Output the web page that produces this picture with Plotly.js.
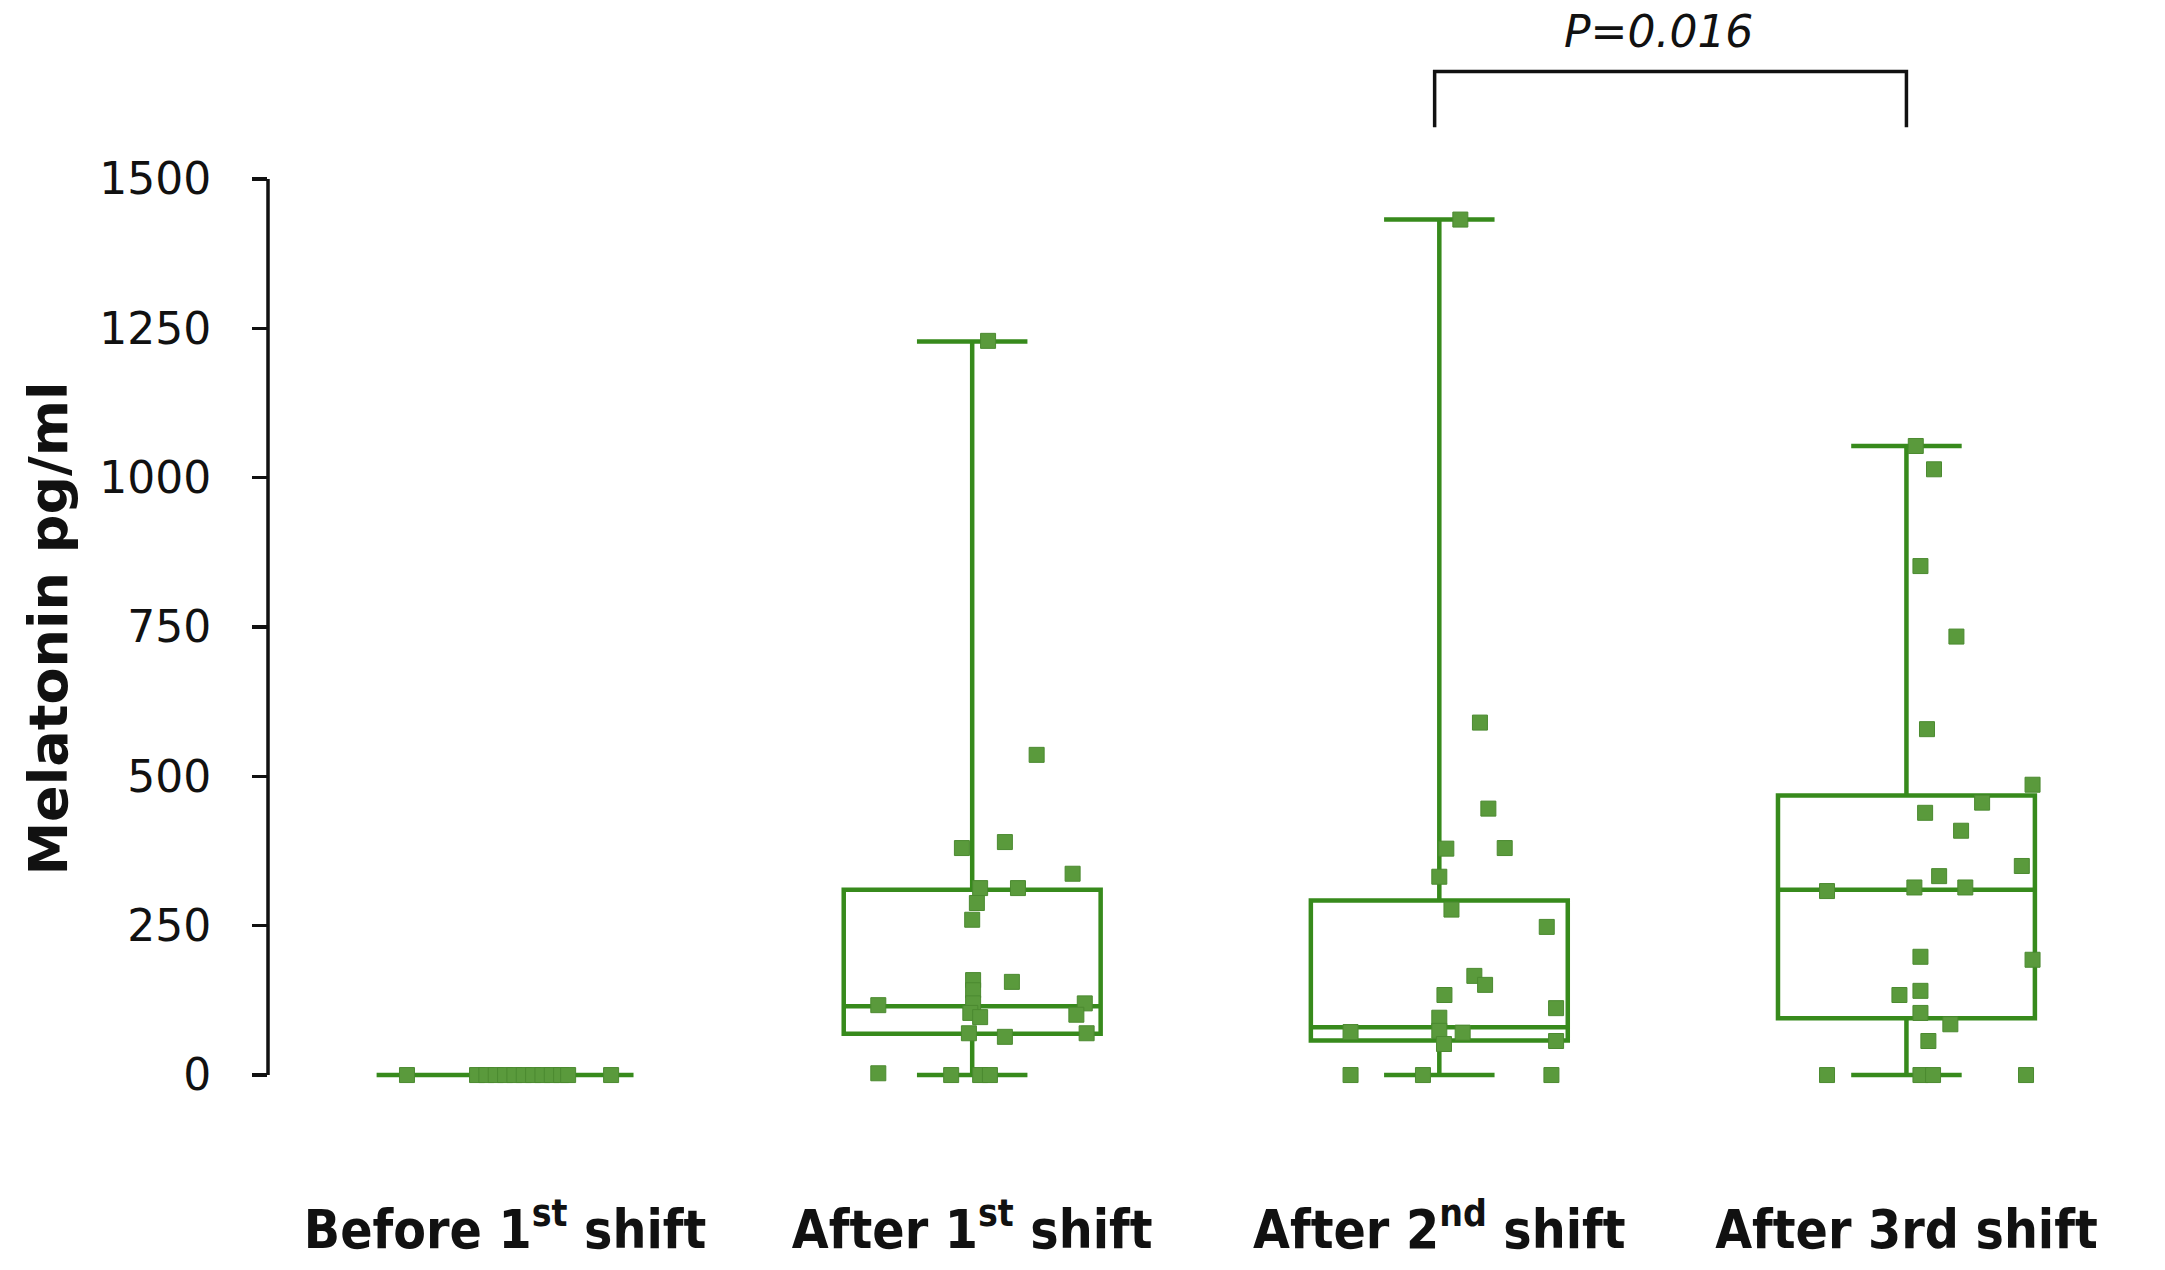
<!DOCTYPE html>
<html>
<head>
<meta charset="utf-8">
<script src="https://cdn.plot.ly/plotly-3.0.1.min.js"></script>
<style>html,body{margin:0;padding:0;background:#fff;}#chart{width:2165px;height:1270px;}</style>
</head>
<body>
<div id="chart"></div>
<script>
// ---- data ----
const categories = ['Before 1<sup>st</sup> shift', 'After 1<sup>st</sup> shift', 'After 2<sup>nd</sup> shift', 'After 3rd shift'];
const catIndex = [0, 1, 2, 3];

const q1 = [0, 69, 58, 95];
const median = [0, 115, 80, 310];
const q3 = [0, 310, 292, 468];
const lowerFence = [0, 0, 0, 0];
const upperFence = [0, 1228, 1432, 1053];

const beforeValues  = [0, 0, 0, 0, 0, 0, 0, 0, 0, 0, 0, 0, 0];
const beforeJitter  = [-0.21, -0.06, -0.04, -0.02, 0, 0.02, 0.04, 0.06, 0.08, 0.10, 0.12, 0.135, 0.227];

const after1Values = [1229, 536, 390, 380, 337, 313, 313, 288, 260, 159, 142, 156, 120, 117, 120, 104, 97, 101, 70, 70, 64, 3, 0, 0, 0];
const after1Jitter = [0.034, 0.138, 0.07, -0.022, 0.215, 0.098, 0.017, 0.01, 0, 0.002, 0.002, 0.085, 0.002, -0.201, 0.241, -0.004, 0.017, 0.223, 0.245, -0.007, 0.07, -0.201, -0.045, 0.017, 0.038];

const after2Values = [1432, 590, 446, 379, 380, 332, 277, 248, 166, 151, 134, 112, 96, 74, 71, 72, 52, 57, 0, 0, 0];
const after2Jitter = [0.045, 0.087, 0.105, 0.015, 0.14, 0, 0.026, 0.23, 0.075, 0.098, 0.011, 0.25, 0, 0, 0.05, -0.19, 0.01, 0.25, -0.19, -0.035, 0.24];

const after3Values = [1053, 1014, 852, 734, 579, 486, 456, 439, 409, 350, 333, 314, 314, 308, 198, 193, 141, 134, 104, 85, 57, 0, 0, 0, 0];
const after3Jitter = [0.02, 0.059, 0.03, 0.107, 0.044, 0.27, 0.162, 0.04, 0.117, 0.247, 0.07, 0.126, 0.017, -0.17, 0.03, 0.27, 0.03, -0.015, 0.03, 0.094, 0.047, -0.17, 0.03, 0.057, 0.256];

const yTicks = [0, 250, 500, 750, 1000, 1250, 1500];
const comparePair = [2, 3];
const pLabel = 'P=0.016';

// ---- build ----
const groupValues = [beforeValues, after1Values, after2Values, after3Values];
const groupJitter = [beforeJitter, after1Jitter, after2Jitter, after3Jitter];
const ptsX = [], ptsY = [];
groupValues.forEach((vals, g) => {
  vals.forEach((v, i) => { ptsX.push(catIndex[g] + groupJitter[g][i]); ptsY.push(v); });
});

const lineGreen = '#378a1c';
const dotGreen = '#5a9a3c';

const boxTrace = {
  type: 'box',
  x: catIndex,
  q1: q1, median: median, q3: q3,
  lowerfence: lowerFence, upperfence: upperFence,
  width: 0.55,
  whiskerwidth: 0.43,
  boxpoints: false,
  fillcolor: 'rgba(0,0,0,0)',
  line: {color: lineGreen, width: 4.5},
  hoverinfo: 'skip'
};

const pointTrace = {
  type: 'scatter',
  mode: 'markers',
  x: ptsX, y: ptsY,
  cliponaxis: false,
  marker: {symbol: 'square', size: 15, color: dotGreen, line: {color: '#4b8a30', width: 1}},
  hoverinfo: 'y'
};

const layout = {
  width: 2165, height: 1270,
  margin: {l: 268, r: 25, t: 167, b: 180},
  paper_bgcolor: '#ffffff', plot_bgcolor: '#ffffff',
  showlegend: false,
  xaxis: {
    range: [-0.5075, 3.5],
    tickvals: catIndex, ticktext: categories,
    ticks: '', showline: false, showgrid: false, zeroline: false,
    ticklabelstandoff: 104,
    tickfont: {family: '"DejaVu Sans Condensed", "DejaVu Sans", Verdana, sans-serif', size: 53, weight: 'bold', color: '#111'}
  },
  yaxis: {
    range: [-25, 1520],
    tickvals: yTicks,
    ticks: 'outside', ticklen: 15, tickwidth: 3.5, tickcolor: '#111',
    showline: false, showgrid: false, zeroline: false,
    ticklabelstandoff: 32,
    tickfont: {family: '"DejaVu Sans", Verdana, sans-serif', size: 44, color: '#111'},
    title: {text: 'Melatonin pg/ml', standoff: 14,
      font: {family: '"DejaVu Sans", Verdana, sans-serif', size: 54, weight: 'bold', color: '#111'}}
  },
  shapes: [
    {type: 'line', xref: 'paper', yref: 'y', x0: 0, x1: 0, y0: yTicks[0], y1: yTicks[yTicks.length - 1],
     line: {color: '#111', width: 3.5}},
    {type: 'path', xref: 'x', yref: 'paper',
     path: `M ${comparePair[0] - 0.01},1.043 L ${comparePair[0] - 0.01},1.1035 L ${comparePair[1]},1.1035 L ${comparePair[1]},1.043`,
     line: {color: '#111', width: 3.5}}
  ],
  annotations: [
    {xref: 'x', yref: 'paper', x: (comparePair[0] + comparePair[1]) / 2 - 0.03, y: 1.147,
     xanchor: 'center', yanchor: 'middle', showarrow: false, text: pLabel,
     font: {family: '"DejaVu Sans", Verdana, sans-serif', size: 44, style: 'italic', color: '#111'}}
  ]
};

Plotly.newPlot('chart', [boxTrace, pointTrace], layout, {displayModeBar: false, staticPlot: true});
</script>
</body>
</html>
